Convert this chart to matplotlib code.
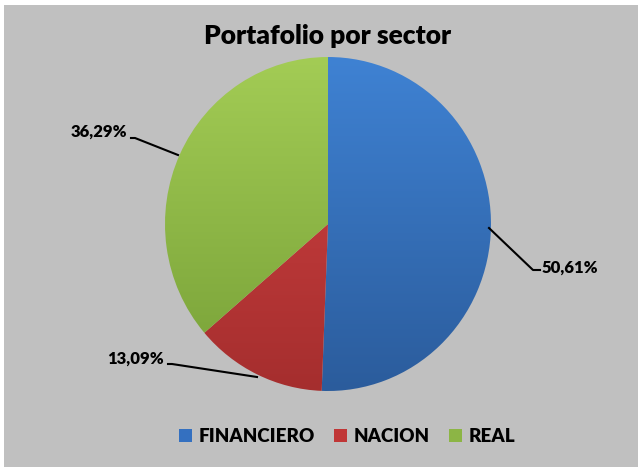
import numpy as np
import matplotlib.pyplot as plt
from matplotlib.colors import LinearSegmentedColormap
from matplotlib.patches import Patch, Rectangle

sectors = ['FINANCIERO', 'NACION', 'REAL']
shares = [50.61, 13.09, 36.29]
labels = ['50,61%', '13,09%', '36,29%']
top_colors = ['#3f82d3', '#d44343', '#a3cc55']
bottom_colors = ['#2b5c9c', '#a52e2e', '#77a037']
legend_colors = ['#3470c0', '#c03636', '#8cb545']

plt.rcParams['font.family'] = ['Lato', 'DejaVu Sans']

fig = plt.figure(figsize=(6.38, 4.67), dpi=100)
fig.patch.set_facecolor('#c0c0c0')
fig.patches.append(Rectangle((0, 0.99), 1, 0.01, transform=fig.transFigure,
                             facecolor='white', edgecolor='none'))
fig.patches.append(Rectangle((0, 0), 0.0065, 1, transform=fig.transFigure,
                             facecolor='white', edgecolor='none'))

cx, cy, rx, ry = 328, 224, 163, 167
ax = fig.add_axes([(cx - rx) / 638, (467 - cy - ry) / 467, 2 * rx / 638, 2 * ry / 467])

wedges, _ = ax.pie(shares, startangle=90, counterclock=False, radius=1.0,
                   colors=['none'] * 3, wedgeprops=dict(linewidth=0))
ax.set_aspect('auto')
ax.axis('off')

grad = np.linspace(0, 1, 256).reshape(-1, 1)
for w, c1, c2 in zip(wedges, top_colors, bottom_colors):
    cmap = LinearSegmentedColormap.from_list('g', [c1, c2])
    im = ax.imshow(grad, cmap=cmap, extent=[-1, 1, -1, 1], aspect='auto',
                   origin='upper', zorder=1)
    im.set_clip_path(w)
ax.set_xlim(-1.0, 1.0)
ax.set_ylim(-1.0, 1.0)

# leader lines and labels (pixel positions converted to data units)
def px(x, y):
    return ((x - cx) / rx, (cy - y) / ry)

lab_text = [px(542, 268), px(164, 359), px(127, 132)]
aligns = ['left', 'right', 'right']
elbows = [[px(489, 228), px(533, 270), px(540, 270)],
          [px(257, 377), px(172, 364), px(168, 364)],
          [px(178, 155), px(135, 138), px(131, 138)]]
for lab, pos, line, ha in zip(labels, lab_text, elbows, aligns):
    xs, ys = zip(*line)
    ax.plot(xs, ys, color='black', lw=1.5, zorder=3, clip_on=False)
    ax.text(pos[0], pos[1], lab, ha=ha, va='center', fontsize=12,
            fontweight='heavy', color='black', clip_on=False)

fig.text(0.513, 0.922, 'Portafolio por sector', ha='center', va='center',
         fontsize=19, fontweight='heavy')

handles = [Patch(facecolor=c, edgecolor='none') for c in legend_colors]
fig.legend(handles, sectors, loc='center', bbox_to_anchor=(0.544, 0.066),
           ncol=3, frameon=False, prop={'weight': 'heavy', 'size': 13.5},
           handlelength=0.7, handleheight=0.7, handletextpad=0.37,
           columnspacing=1.0)

fig.savefig('out.png', dpi=100, facecolor=fig.get_facecolor())
